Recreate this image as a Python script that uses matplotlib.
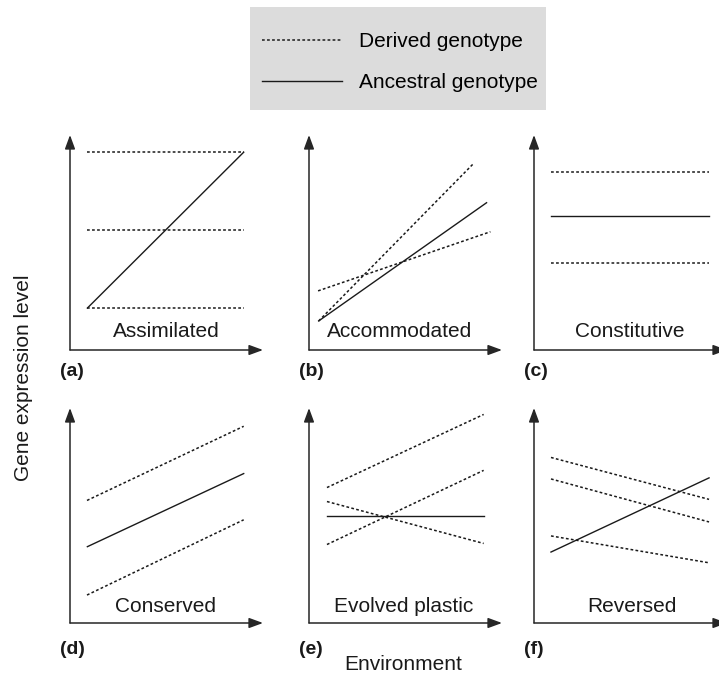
import matplotlib.pyplot as plt
from matplotlib.patches import Rectangle

plt.rcParams['font.family'] = ['Liberation Sans', 'DejaVu Sans']

# reaction norms as (env start, env end, expression start, expression end)
# environment and expression both on a 0-10 scale
a_derived = [(0.9, 9.0, 9.2, 9.2), (0.9, 9.0, 5.6, 5.6), (0.9, 9.0, 1.95, 1.95)]
a_ancestral = (0.9, 9.0, 1.95, 9.2)

b_derived = [(0.5, 8.5, 1.35, 8.65), (0.47, 9.4, 2.75, 5.5)]
b_ancestral = (0.5, 9.2, 1.35, 6.85)

c_derived = [(0.88, 9.07, 8.3, 8.3), (0.88, 9.07, 4.05, 4.05)]
c_ancestral = (0.88, 9.07, 6.25, 6.25)

d_derived = [(0.88, 9.0, 5.7, 9.15), (0.88, 9.0, 1.3, 4.8)]
d_ancestral = (0.9, 9.0, 3.55, 6.95)

e_derived = [(0.93, 9.05, 6.3, 9.7), (0.93, 9.05, 5.65, 3.7), (0.93, 9.05, 3.65, 7.1)]
e_ancestral = (0.93, 9.05, 5.0, 5.0)

f_derived = [(0.88, 9.07, 7.7, 5.75), (0.88, 9.07, 6.7, 4.7), (0.88, 9.07, 4.05, 2.8)]
f_ancestral = (0.88, 9.07, 3.3, 6.75)

titles = ['Assimilated', 'Accommodated', 'Constitutive',
          'Conserved', 'Evolved plastic', 'Reversed']
letters = ['(a)', '(b)', '(c)', '(d)', '(e)', '(f)']
title_x = [4.97, 4.7, 4.97, 4.95, 4.9, 5.08]

derived_sets = [a_derived, b_derived, c_derived, d_derived, e_derived, f_derived]
ancestral_sets = [a_ancestral, b_ancestral, c_ancestral, d_ancestral, e_ancestral, f_ancestral]

W, H = 719, 677
fig = plt.figure(figsize=(W / 100, H / 100), dpi=100)

# axis origin of each panel in pixels
origins = [(70, 350), (309, 350), (534, 350), (70, 623), (309, 623), (534, 623)]
AX_W, AX_H = 193, 215

DOT = (0, (1.8, 1.5))
INK = '#1a1a1a'
arrow_kw = dict(arrowstyle='-|>,head_length=0.6,head_width=0.22', mutation_scale=14,
                color='#262626', lw=1.1, shrinkA=0, shrinkB=0)

handles = None
for i in range(6):
    ox, oy = origins[i]
    ax = fig.add_axes([ox / W, (H - oy) / H, AX_W / W, AX_H / H])
    ax.set_xlim(0, 10)
    ax.set_ylim(0, 10)
    ax.axis('off')

    dline = None
    for x0, x1, y0, y1 in derived_sets[i]:
        dline, = ax.plot([x0, x1], [y0, y1], ls=DOT, color=INK, lw=1.1)
    x0, x1, y0, y1 = ancestral_sets[i]
    aline, = ax.plot([x0, x1], [y0, y1], ls='-', color=INK, lw=1.0)
    if handles is None:
        handles = [dline, aline]

    # axes drawn as arrows
    ax.annotate('', xy=(1, 0), xytext=(0, 0), xycoords='axes fraction',
                arrowprops=arrow_kw, annotation_clip=False)
    ax.annotate('', xy=(0, 1), xytext=(0, 0), xycoords='axes fraction',
                arrowprops=arrow_kw, annotation_clip=False)

    base = 0.6 if i < 3 else 0.5
    ax.text(title_x[i], base, titles[i], ha='center', va='baseline', fontsize=15, color=INK)
    drop = 22 if i < 3 else 26
    ax.text(-10 / AX_W, -drop / AX_H, letters[i], transform=ax.transAxes,
            ha='left', va='center', fontsize=14, fontweight='bold', color=INK)

# legend on grey box
fig.add_artist(Rectangle((250 / W, 1 - 110 / H), 296 / W, 103 / H,
                         transform=fig.transFigure, facecolor='#dcdcdc',
                         edgecolor='none', zorder=0))
fig.legend(handles=handles, labels=['Derived genotype', 'Ancestral genotype'],
           loc='upper left', bbox_to_anchor=(262 / W, 1 - 32 / H), frameon=False,
           handlelength=3.86, handletextpad=0.8, labelspacing=1.05, fontsize=15,
           borderpad=0, borderaxespad=0)

fig.text(403 / W, 1 - 665 / H, 'Environment', ha='center', va='center', fontsize=15, color=INK)
fig.text(24 / W, 1 - 378 / H, 'Gene expression level', ha='center', va='center',
         rotation=90, fontsize=15, color=INK)

fig.savefig('out.png', dpi=100)
